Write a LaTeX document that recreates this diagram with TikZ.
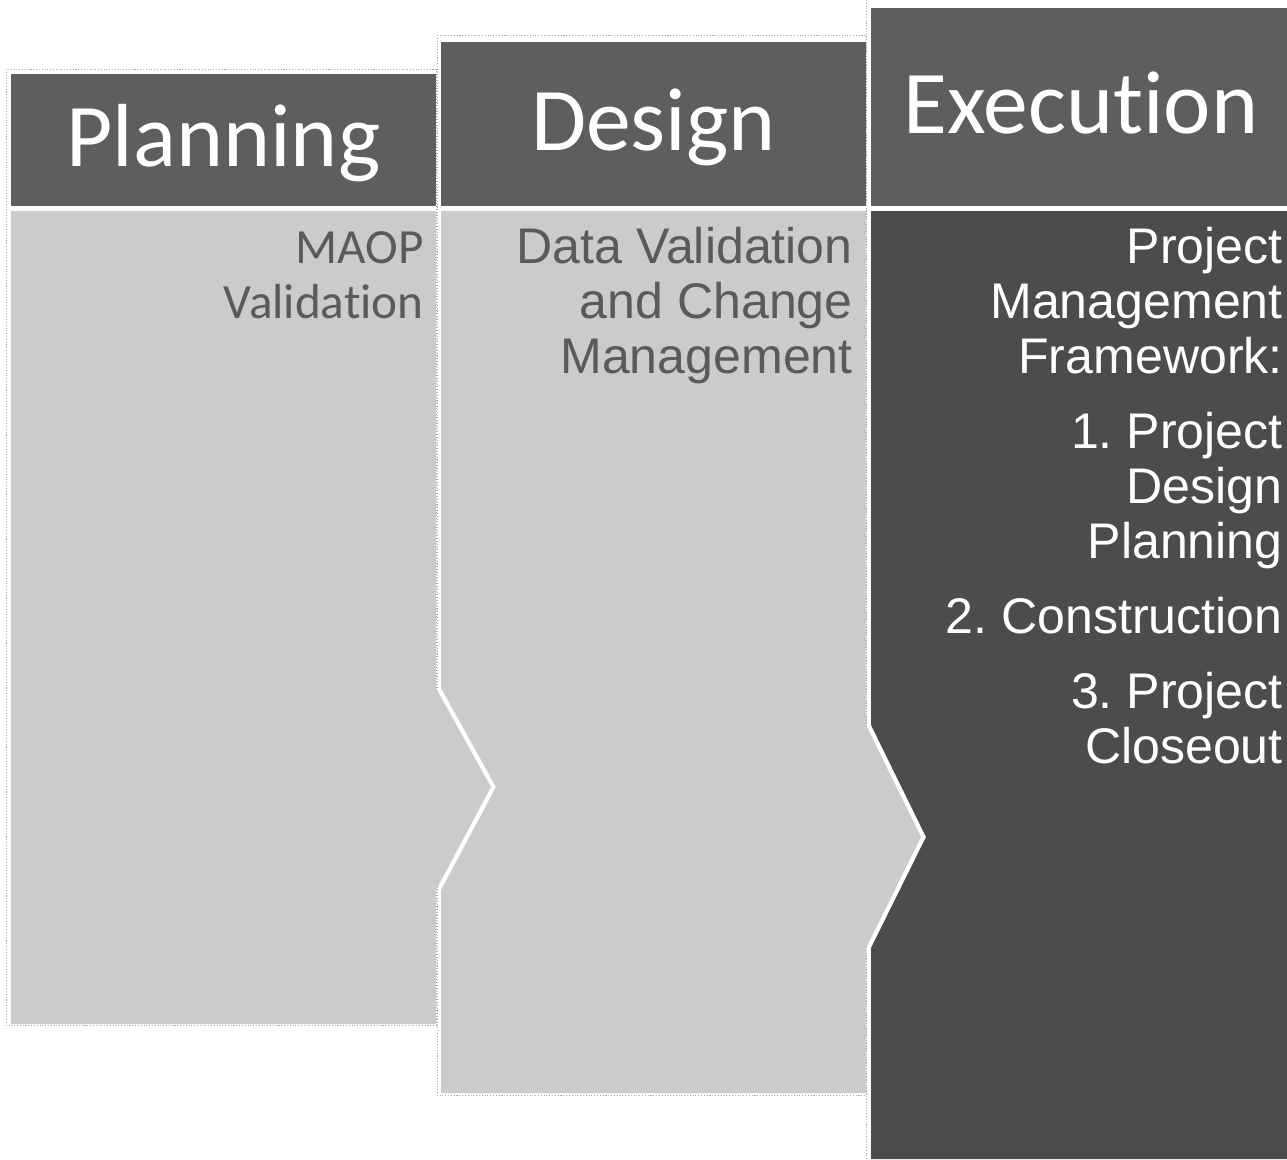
\documentclass[tikz,border=0pt]{standalone}
\usepackage{fontspec}
\setmainfont{Liberation Sans}
\newfontfamily\hdrfont[Ligatures=NoCommon]{Carlito}
\frenchspacing
\definecolor{hdrgray}{HTML}{5E5E5E}
\definecolor{bodygray}{HTML}{CBCBCB}
\definecolor{execgray}{HTML}{4C4C4C}
\definecolor{txtgray}{HTML}{5A5A5A}
\definecolor{framegray}{HTML}{A8A8A8}
\tikzset{
  hdrtext/.style={text=white,anchor=base,inner sep=0pt,font=\hdrfont\fontsize{51}{60}\selectfont},
  bodytext/.style={align=right,anchor=base east,inner sep=0pt,font=\fontsize{28.5}{31.3}\selectfont},
  outline/.style={draw=framegray,line width=0.5pt,dash pattern=on 0.6pt off 1pt}
}
\begin{document}
\begin{tikzpicture}[x=0.02cm,y=-0.02cm]
\useasboundingbox (0,0) rectangle (1287,1159);
% faint frames
\draw[outline] (6,69) rectangle (436,1025);
\draw[outline] (437,35) rectangle (866,1095);
\draw[outline] (866,0) -- (866,1159);
% headers
\fill[hdrgray] (11,74) rectangle (436,206);
\fill[hdrgray] (441,42) rectangle (866,206);
\fill[hdrgray] (871,8) rectangle (1287,206);
% bodies
\fill[bodygray] (11,211) -- (436,211) -- (436,688) -- (491,787) -- (436,890)
  -- (436,1024) -- (11,1024) -- cycle;
\fill[bodygray] (441,211) -- (866,211) -- (866,725) -- (921,837) -- (866,948)
  -- (866,1093) -- (441,1093) -- (441,890) -- (496,787) -- (441,688) -- cycle;
\fill[execgray] (871,211) -- (1287,211) -- (1287,1159) -- (871,1159)
  -- (871,948) -- (926,837) -- (871,725) -- cycle;
% header texts
\node[hdrtext] (plan) at (223.5,166) {Planning};
\node[hdrtext] (design) at (653.5,150) {Design};
\node[hdrtext] (exec) at (1081,133) {Execution};
% body texts (anchored at the last line)
\node[bodytext,text=txtgray,font=\hdrfont\fontsize{28}{31.3}\selectfont] (maop) at (424,318) {MAOP\\Validation};
\node[bodytext,text=txtgray] (dvcm) at (853,373) {Data Validation\\and Change\\Management};
\node[bodytext,text=white] (pmf) at (1283,763) {Project\\Management\\Framework:\\[0.4cm]
  1. Project\\Design\\Planning\\[0.4cm]
  2. Construction\\[0.4cm]
  3. Project\\Closeout};
\end{tikzpicture}
\end{document}
